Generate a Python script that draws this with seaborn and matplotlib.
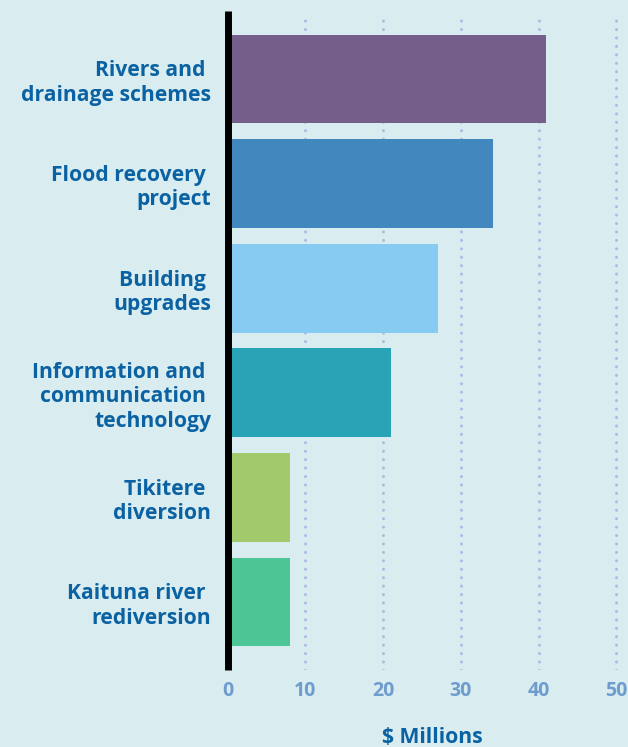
import matplotlib
matplotlib.use("Agg")
import matplotlib.pyplot as plt
import seaborn as sns
import pandas as pd

# Spending by programme, $ millions
categories = [
    "Rivers and \ndrainage schemes",
    "Flood recovery \nproject",
    "Building \nupgrades",
    "Information and \ncommunication \ntechnology",
    "Tikitere \ndiversion",
    "Kaituna river \nrediversion",
]
values = [41.0, 34.1, 27.0, 21.0, 8.0, 8.0]
bar_colors = ["#735f8a", "#4287bd", "#87caf2", "#29a4b6", "#a3c96d", "#4dc594"]
x_ticks = [0, 10, 20, 30, 40, 50]

BG = "#d9ecf0"
LABEL_BLUE = "#0a62a3"
TICK_BLUE = "#6e9ccf"
GRID = "#adbbe2"

sns.set_theme(style="white")
plt.rcParams["font.family"] = ["Open Sans", "DejaVu Sans"]

df = pd.DataFrame({"category": categories, "value": values})

fig = plt.figure(figsize=(6.28, 7.47), dpi=100, facecolor=BG)
ax = fig.add_axes([0.3626, 0.1031, 1 - 0.3626, 0.9853 - 0.1031])
ax.set_facecolor(BG)

sns.barplot(
    data=df, y="category", x="value", hue="category",
    palette=bar_colors, order=categories, hue_order=categories,
    orient="h", width=0.85, legend=False, saturation=1,
    linewidth=0, edgecolor="none", ax=ax,
)

ax.set_xlim(0, 51.5)
ax.set_ylim(len(categories) - 0.35, -0.65)
ax.set_xticks(x_ticks)
ax.set_xticklabels([str(t) for t in x_ticks])

# dotted vertical guides, starting just below the top of the axis line
for t in x_ticks[1:]:
    ax.axvline(t, ymax=0.994, color=GRID, lw=2.2, linestyle=(0, (0.01, 2.75)),
               dash_capstyle="round", zorder=0.5)

for side in ["top", "right", "bottom"]:
    ax.spines[side].set_visible(False)
ax.spines["left"].set_color("black")
ax.spines["left"].set_linewidth(5)
ax.spines["left"].set_capstyle("butt")
ax.spines["left"].set_zorder(3)

ax.tick_params(axis="y", length=0, pad=12)
ax.tick_params(axis="x", length=0, pad=8)
for lbl in ax.get_yticklabels():
    lbl.set_fontsize(15.2)
    lbl.set_fontweight("bold")
    lbl.set_color(LABEL_BLUE)
    lbl.set_linespacing(1.2)
    lbl.set_horizontalalignment("right")
    lbl.set_multialignment("right")
for lbl in ax.get_xticklabels():
    lbl.set_fontsize(14)
    lbl.set_fontweight("bold")
    lbl.set_color(TICK_BLUE)

ax.set_ylabel("")
ax.set_xlabel("$ Millions", fontsize=15.2, fontweight="bold", color=LABEL_BLUE)
ax.xaxis.set_label_coords(0.51, -0.102)
ax.xaxis.label.set_verticalalignment("center")

fig.savefig("out.png", dpi=100, facecolor=BG)
